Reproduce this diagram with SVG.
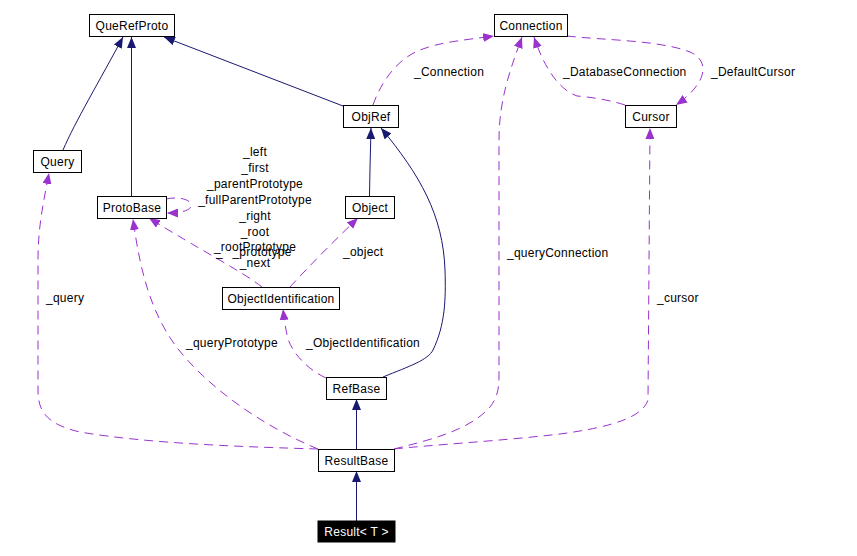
<svg xmlns="http://www.w3.org/2000/svg" width="857" height="556" viewBox="0 0 857 556">
<style>
text{font-family:"Liberation Sans",Arial,sans-serif;font-size:12px;letter-spacing:0.25px;fill:#000}
.n rect{fill:#fff;stroke:#000;stroke-width:1}
.n text{text-anchor:middle}
.inh{fill:none;stroke:#191970;stroke-width:1}
.use{fill:none;stroke:#9a32cd;stroke-width:1;stroke-dasharray:9,6}
.lbl{text-anchor:middle}
</style>
<defs>
<marker id="ab" markerUnits="userSpaceOnUse" markerWidth="12" markerHeight="9" refX="11" refY="4.5" orient="auto"><path d="M0,0 L11,4.5 L0,9 z" fill="#191970"/></marker>
<marker id="ap" markerUnits="userSpaceOnUse" markerWidth="12" markerHeight="9" refX="11" refY="4.5" orient="auto"><path d="M0,0 L11,4.5 L0,9 z" fill="#9a32cd"/></marker>
</defs>
<rect width="857" height="556" fill="#fff"/>
<g id="edges">
<path class="inh" marker-end="url(#ab)" d="M63,150 C75,122 100,80 123,37"/>
<path class="inh" marker-end="url(#ab)" d="M131.5,196 L131.5,37"/>
<path class="inh" marker-end="url(#ab)" d="M343,106 L164,37"/>
<path class="inh" marker-end="url(#ab)" d="M369.5,196 L370,168 L371,128"/>
<path class="inh" marker-end="url(#ab)" d="M383,377 C410,366 428,360 433,350 C445,325 446,300 445,270 C443,215 420,175 381,128"/>
<path class="inh" marker-end="url(#ab)" d="M356.5,449 L356.5,399"/>
<path class="inh" marker-end="url(#ab)" d="M356.5,521 L356.5,471"/>
<path class="use" marker-end="url(#ap)" d="M318,449 C250,447 150,444 80,432 C45,424 38,410 38,390 L38,260 C38,225 44,200 49,173"/>
<path class="use" marker-end="url(#ap)" d="M318,449 C260,425 205,385 175,345 C150,310 140,270 133,219"/>
<path class="use" marker-end="url(#ap)" d="M166,199 C180,196 192,200 191,206 C190,211 180,213 167,213"/>
<path class="use" marker-end="url(#ap)" d="M262,287 C240,270 200,250 149,218"/>
<path class="use" marker-end="url(#ap)" d="M290,287 C310,265 335,240 358,218"/>
<path class="use" marker-end="url(#ap)" d="M326,378 C305,368 290,350 287,335 C285,325 284,318 283,309"/>
<path class="use" marker-end="url(#ap)" d="M373,105 C380,85 395,60 420,50 C440,42 465,40 494,36"/>
<path class="use" marker-end="url(#ap)" d="M394,449 C430,440 470,430 490,407 C497,398 499,390 499,375 L499,140 C499,100 510,70 522,37"/>
<path class="use" marker-end="url(#ap)" d="M625,105 C610,100 590,97 577,96 C560,90 545,70 534,37"/>
<path class="use" marker-end="url(#ap)" d="M567,36 C600,40 660,40 690,52 C712,62 705,85 676,105"/>
<path class="use" marker-end="url(#ap)" d="M394,449 C430,445 500,441 560,434 C620,426 643,415 648,400 L650,128"/>
<text x="46" y="302">_query</text>
<text x="186" y="347">_queryPrototype</text>
<text x="343" y="256">_object</text>
<text x="306" y="347">_ObjectIdentification</text>
<text x="414" y="76">_Connection</text>
<text x="563" y="76">_DatabaseConnection</text>
<text x="711" y="76">_DefaultCursor</text>
<text x="507" y="257">_queryConnection</text>
<text x="657" y="302">_cursor</text>
<text class="lbl" x="255" y="156">_left</text>
<text class="lbl" x="255" y="172">_first</text>
<text class="lbl" x="255" y="188">_parentPrototype</text>
<text class="lbl" x="255" y="204">_fullParentPrototype</text>
<text class="lbl" x="255" y="220">_right</text>
<text class="lbl" x="255" y="236">_root</text>
<text class="lbl" x="255" y="251">_rootPrototype</text>
<text x="216" y="256">_</text>
<text class="lbl" x="262" y="256">_prototype</text>
<text class="lbl" x="255" y="267">_next</text>
</g>
<g id="QueRefProto" class="n"><rect x="89.5" y="14.5" width="85" height="22"/><text x="132" y="30">QueRefProto</text></g>
<g id="Query" class="n"><rect x="33.5" y="150.5" width="48" height="22"/><text x="57.5" y="166">Query</text></g>
<g id="ProtoBase" class="n"><rect x="97.5" y="196.5" width="69" height="22"/><text x="132" y="212">ProtoBase</text></g>
<g id="Connection" class="n"><rect x="494.5" y="14.5" width="73" height="22"/><text x="531" y="30">Connection</text></g>
<g id="ObjRef" class="n"><rect x="343.5" y="105.5" width="55" height="22"/><text x="371" y="121">ObjRef</text></g>
<g id="Cursor" class="n"><rect x="625.5" y="105.5" width="51" height="22"/><text x="651" y="121">Cursor</text></g>
<g id="Object" class="n"><rect x="345.5" y="196.5" width="49" height="22"/><text x="370" y="212">Object</text></g>
<g id="ObjectIdentification" class="n"><rect x="222.5" y="287.5" width="117" height="22"/><text x="281" y="303">ObjectIdentification</text></g>
<g id="RefBase" class="n"><rect x="326.5" y="377.5" width="60" height="22"/><text x="356.5" y="393">RefBase</text></g>
<g id="ResultBase" class="n"><rect x="318.5" y="449.5" width="76" height="22"/><text x="356.5" y="465">ResultBase</text></g>
<g id="Result" class="n"><rect x="318" y="521" width="77" height="21" fill="#000" style="fill:#000;stroke:#000"/><text x="356.5" y="536" style="fill:#fff">Result&lt; T &gt;</text></g>
</svg>
